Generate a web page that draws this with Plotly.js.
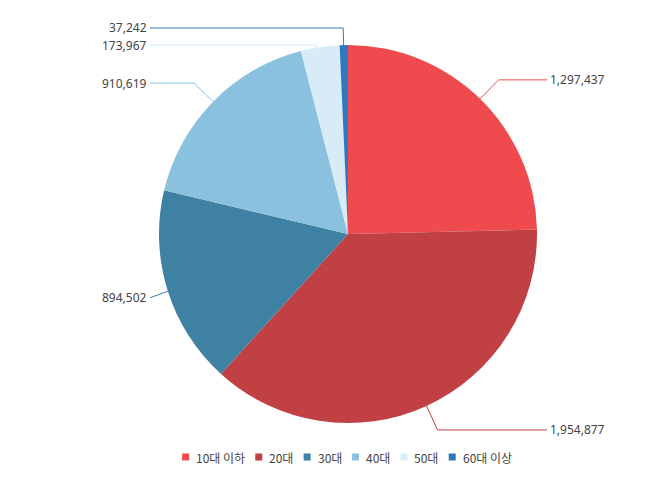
<!DOCTYPE html>
<html>
<head>
<meta charset="utf-8">
<script src="https://cdn.plot.ly/plotly-3.0.1.min.js"></script>
<style>html,body{margin:0;padding:0;background:#fff;}#chart{width:658px;height:493px;}</style>
</head>
<body>
<div id="chart"></div>
<script>
const categories = ['10대 이하', '20대', '30대', '40대', '50대', '60대 이상'];
const values = [1297437, 1954877, 894502, 910619, 173967, 37242];
const colors = ['#ef4b4f', '#c04043', '#3f81a3', '#8ac1df', '#d8ebf7', '#2e78c0'];

const W = 658, H = 493;
const cx = 348, cy = 234, R = 189;
const fmt = v => v.toLocaleString('en-US');
const px = x => x / W, py = y => 1 - y / H;

function draw() {
  const trace = {
    type: 'pie',
    labels: categories,
    values: values,
    sort: false,
    direction: 'clockwise',
    rotation: 0,
    marker: {colors: colors, line: {width: 0}},
    textinfo: 'none',
    hoverinfo: 'label+value',
    showlegend: false,
    domain: {x: [(cx - R) / W, (cx + R) / W], y: [1 - (cy + R) / H, 1 - (cy - R) / H]}
  };

  // connector + label geometry derived from data angles
  const total = values.reduce((a, b) => a + b, 0);
  let acc = 0;
  const items = values.map((v, i) => {
    const mid = (acc + v / 2) / total * 2 * Math.PI;
    acc += v;
    const dx = Math.sin(mid), dy = -Math.cos(mid);
    return {
      i, dx, dy,
      sx: cx + dx * R * 0.83, sy: cy + dy * R * 0.83,
      ex: cx + dx * R * 1.14, ey: cy + dy * R * 1.14,
      right: dx >= 0
    };
  });
  const minY = 28, gap = 17;
  ['L', 'R'].forEach(side => {
    const arr = items.filter(it => (side === 'R') === it.right).sort((a, b) => a.ey - b.ey);
    let prev = -Infinity;
    arr.forEach(it => {
      const y = Math.max(it.ey, minY, prev + gap);
      it.ly = y; prev = y;
    });
  });

  const shapes = [], annotations = [];
  items.forEach(it => {
    const lx = it.right ? 547 : 150;
    const ex = it.right ? Math.min(it.ex, lx) : Math.max(it.ex, lx);
    const path = `M ${px(it.sx)},${py(it.sy)} L ${px(ex)},${py(it.ly)} L ${px(lx)},${py(it.ly)}`;
    shapes.push({type: 'path', xref: 'paper', yref: 'paper', path: path,
      line: {color: colors[it.i], width: 1}});
    annotations.push({
      xref: 'paper', yref: 'paper', x: px(it.right ? lx + 2 : lx - 2), y: py(it.ly),
      xanchor: it.right ? 'left' : 'right', yanchor: 'middle', borderpad: 0,
      text: fmt(values[it.i]), showarrow: false,
      font: {family: 'Noto Sans, Open Sans, sans-serif', size: 12, color: '#444'}
    });
  });

  // compact legend built from the category and colour arrays
  const legFont = '12px "Noto Sans CJK KR"';
  const ctx = document.createElement('canvas').getContext('2d');
  ctx.font = legFont;
  const sq = 7, sqGap = 7, itemGap = 10, legY = 457, legCx = 347;
  const widths = categories.map(c => ctx.measureText(c).width);
  const totalW = widths.reduce((s, w) => s + sq + sqGap + w, 0) + itemGap * (categories.length - 1);
  let x = legCx - totalW / 2;
  categories.forEach((c, i) => {
    shapes.push({type: 'rect', xref: 'paper', yref: 'paper',
      x0: px(x), x1: px(x + sq), y0: py(legY + sq / 2), y1: py(legY - sq / 2),
      fillcolor: colors[i], line: {width: 0}});
    annotations.push({xref: 'paper', yref: 'paper', x: px(x + sq + sqGap - 1), y: py(legY),
      xanchor: 'left', yanchor: 'middle', borderpad: 0, text: c, showarrow: false,
      font: {family: 'Noto Sans CJK KR, Noto Sans, sans-serif', size: 12, color: '#444'}});
    x += sq + sqGap + widths[i] + itemGap;
  });

  const layout = {
    width: W, height: H,
    margin: {l: 0, r: 0, t: 0, b: 0},
    paper_bgcolor: '#fff',
    showlegend: false,
    shapes: shapes,
    annotations: annotations
  };

  Plotly.newPlot('chart', [trace], layout, {displayModeBar: false, staticPlot: true});
}
(document.fonts && document.fonts.load ? document.fonts.load('12px "Noto Sans CJK KR"', '대이하상') : Promise.resolve())
  .then(draw, draw);
</script>
</body>
</html>
